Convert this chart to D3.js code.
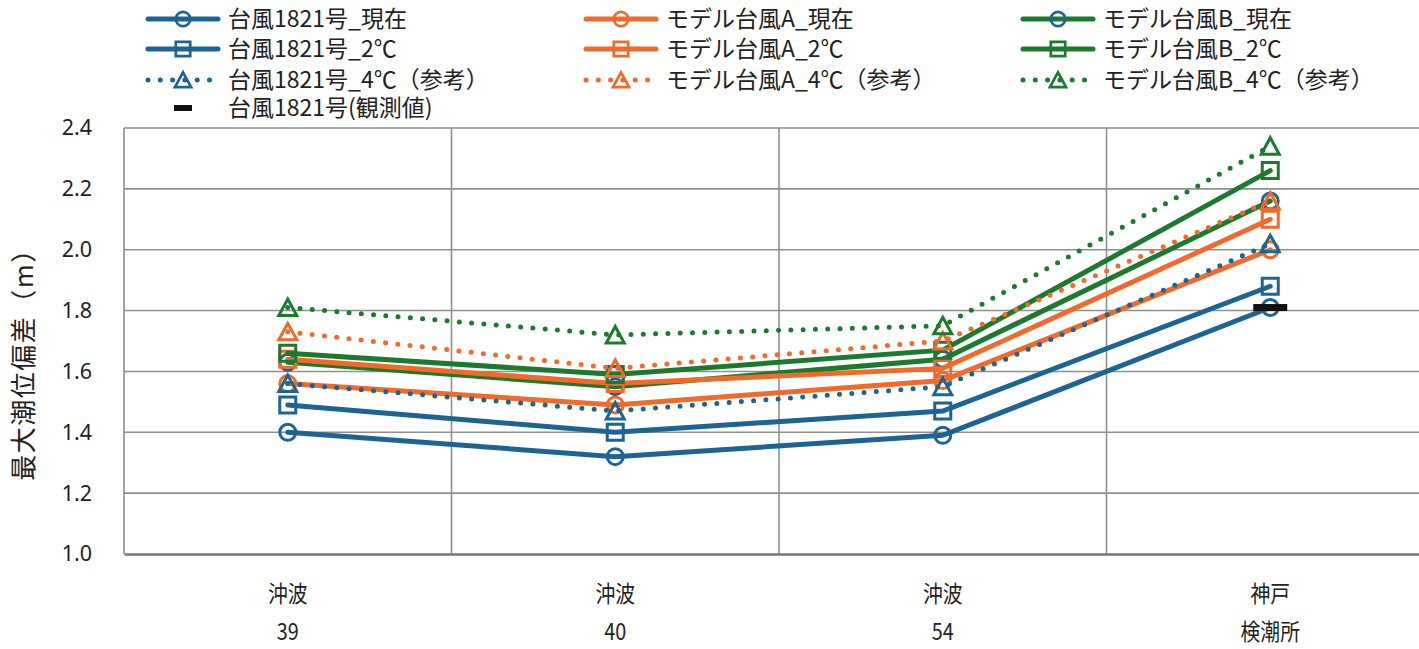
<!DOCTYPE html>
<html>
<head>
<meta charset="utf-8">
<script src="https://cdn.jsdelivr.net/npm/d3@7"></script>
<style>
  body { margin: 0; background: #ffffff; }
  text { font-family: "Noto Sans CJK JP", "Noto Sans", sans-serif; fill: #222; }
</style>
</head>
<body>
<svg id="chart" width="1419" height="649"></svg>
<script>
// Stations along the x axis (two-line labels)
const stations = ["沖波39", "沖波40", "沖波54", "神戸検潮所"];
const stationLine1 = ["沖波", "沖波", "沖波", "神戸"];
const stationLine2 = ["39", "40", "54", "検潮所"];
const yTicks = [1.0, 1.2, 1.4, 1.6, 1.8, 2.0, 2.2, 2.4];

// Maximum storm surge (m) per station
const t1821Now    = [1.40, 1.32, 1.39, 1.81];
const t1821Plus2  = [1.49, 1.40, 1.47, 1.88];
const t1821Plus4  = [1.56, 1.47, 1.55, 2.02];
const modelANow   = [1.56, 1.49, 1.57, 2.00];
const modelAPlus2 = [1.64, 1.56, 1.61, 2.10];
const modelAPlus4 = [1.73, 1.61, 1.70, 2.16];
const modelBNow   = [1.63, 1.55, 1.64, 2.16];
const modelBPlus2 = [1.66, 1.59, 1.67, 2.26];
const modelBPlus4 = [1.81, 1.72, 1.75, 2.34];
const t1821Observed = [null, null, null, 1.81];

const seriesNames = [
  "台風1821号_現在", "モデル台風A_現在", "モデル台風B_現在",
  "台風1821号_2℃", "モデル台風A_2℃", "モデル台風B_2℃",
  "台風1821号_4℃（参考）", "モデル台風A_4℃（参考）", "モデル台風B_4℃（参考）",
  "台風1821号(観測値)"
];
const seriesValues = [
  t1821Now, modelANow, modelBNow,
  t1821Plus2, modelAPlus2, modelBPlus2,
  t1821Plus4, modelAPlus4, modelBPlus4,
  t1821Observed
];

const BLUE = "#1c6491", ORANGE = "#f06a2c", GREEN = "#1c7a2f", BLACK = "#111";
const styles = [
  { color: BLUE,   marker: "circle",   markerColor: BLUE,  dotted: false },
  { color: ORANGE, marker: "circle",   markerColor: ORANGE, dotted: false },
  { color: GREEN,  marker: "circle",   markerColor: BLUE,  dotted: false },
  { color: BLUE,   marker: "square",   markerColor: BLUE,  dotted: false },
  { color: ORANGE, marker: "square",   markerColor: ORANGE, dotted: false },
  { color: GREEN,  marker: "square",   markerColor: GREEN, dotted: false },
  { color: BLUE,   marker: "triangle", markerColor: BLUE,  dotted: true },
  { color: ORANGE, marker: "triangle", markerColor: ORANGE, dotted: true },
  { color: GREEN,  marker: "triangle", markerColor: GREEN, dotted: true },
  { color: BLACK,  marker: "dash",     markerColor: BLACK, dotted: false, noLine: true }
];

const svg = d3.select("#chart");
const plot = { left: 124, right: 1434, top: 128, bottom: 554 };

const x = d3.scaleBand().domain(stations).range([plot.left, plot.right]);
const y = d3.scaleLinear().domain([1.0, 2.4]).range([plot.bottom, plot.top]);
const cx = i => x(stations[i]) + x.bandwidth() / 2;

// Horizontal gridlines
svg.append("g").selectAll("line").data(yTicks.slice(1)).join("line")
  .attr("x1", plot.left).attr("x2", plot.right)
  .attr("y1", d => y(d)).attr("y2", d => y(d))
  .attr("stroke", "#8f8f8f").attr("stroke-width", 1.6);

// Vertical gridlines between stations
const bounds = stations.map(s => x(s)).concat([plot.right]);
svg.append("g").selectAll("line").data(bounds).join("line")
  .attr("x1", d => d).attr("x2", d => d)
  .attr("y1", plot.top).attr("y2", plot.bottom)
  .attr("stroke", "#8f8f8f").attr("stroke-width", 1.6);

// Y axis labels
const yAxis = d3.axisLeft(y).tickValues(yTicks).tickFormat(d3.format(".1f")).tickSize(0).tickPadding(32);
const gy = svg.append("g").attr("transform", `translate(${plot.left},0)`).call(yAxis);
gy.select(".domain").remove();
gy.selectAll("text").style("font-family", "'Noto Sans', sans-serif").style("font-size", "21.5px").attr("fill", "#222");

// X axis
const xAxis = d3.axisBottom(x).tickSize(0).tickFormat(() => "");
const gx = svg.append("g").attr("transform", `translate(0,${plot.bottom})`).call(xAxis);
gx.select(".domain").attr("stroke", "#777").attr("stroke-width", 2.4);
gx.selectAll(".tick").each(function (d, i) {
  const t = d3.select(this).select("text").text(null).attr("y", 0).attr("dy", null)
    .attr("transform", "scale(0.86,1)").style("font-size", "23px").attr("fill", "#333");
  t.append("tspan").attr("x", 0).attr("y", 48).text(stationLine1[i]);
  t.append("tspan").attr("x", 0).attr("y", 86).text(stationLine2[i]);
});

// Y axis title
svg.append("text")
  .attr("transform", `translate(33,358) rotate(-90)`)
  .attr("text-anchor", "middle").style("font-size", "26px").style("letter-spacing", "1.5px")
  .attr("fill", "#444")
  .text("最大潮位偏差（m）");

function markerPath(type) {
  if (type === "circle") return "M-8,0A8,8 0 1,0 8,0A8,8 0 1,0 -8,0Z";
  if (type === "square") return "M-8,-8H8V8H-8Z";
  if (type === "triangle") return "M0,-8.5L9,8H-9Z";
  return null;
}

function drawMarker(g, type, color, px, py, inPlot) {
  if (type === "dash") {
    const w = inPlot ? 34 : 18, h = inPlot ? 7 : 6;
    g.append("rect").attr("x", px - w / 2).attr("y", py - h / 2)
      .attr("width", w).attr("height", h).attr("fill", color);
  } else {
    g.append("path").attr("d", markerPath(type))
      .attr("transform", `translate(${px},${py})${inPlot ? "" : " scale(0.9)"}`)
      .attr("fill", "none").attr("stroke", color).attr("stroke-width", 3);
  }
}

// Series lines and markers
const line = d3.line().defined(d => d != null).x((d, i) => cx(i)).y(d => y(d));
const seriesG = svg.append("g");
seriesValues.forEach((vals, k) => {
  const st = styles[k];
  const g = seriesG.append("g");
  if (!st.noLine) {
    g.append("path").datum(vals).attr("d", line).attr("fill", "none")
      .attr("stroke", st.color)
      .attr("stroke-width", 5)
      .attr("stroke-linecap", "round")
      .attr("stroke-dasharray", st.dotted ? "0 12.3" : null);
  }
  vals.forEach((v, i) => {
    if (v != null) drawMarker(g, st.marker, st.markerColor, cx(i), y(v), true);
  });
});

// Legend
const legendTextX = [228, 666, 1103];
const legendRowY = [19, 49, 80, 108];
const legend = svg.append("g");
seriesNames.forEach((name, k) => {
  const st = styles[k];
  const col = k % 3, row = Math.floor(k / 3);
  const tx = legendTextX[col], ty = legendRowY[row];
  const g = legend.append("g");
  if (!st.noLine) {
    g.append("line").attr("x1", tx - 80).attr("x2", tx - 10).attr("y1", ty).attr("y2", ty)
      .attr("stroke", st.color).attr("stroke-width", 5)
      .attr("stroke-linecap", "round")
      .attr("stroke-dasharray", st.dotted ? "0 12.3" : null);
  }
  drawMarker(g, st.marker, st.markerColor, tx - 45, ty, false);
  g.append("text").attr("x", tx).attr("y", ty).attr("dy", "0.36em")
    .style("font-size", "23px").attr("fill", "#222").text(name);
});
</script>
</body>
</html>
